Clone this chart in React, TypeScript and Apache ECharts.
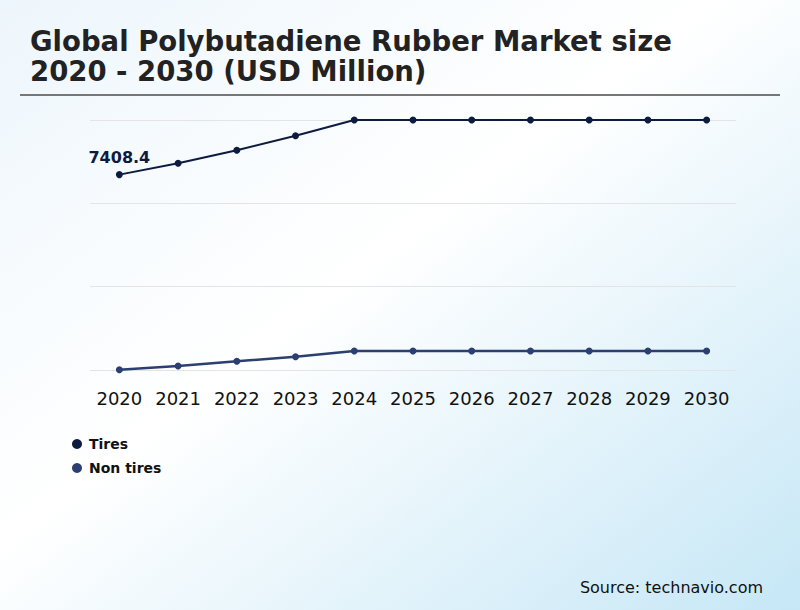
import React, { useEffect, useRef } from "react";
import * as echarts from "echarts";

const years = ["2020", "2021", "2022", "2023", "2024", "2025", "2026", "2027", "2028", "2029", "2030"];
const tires = [7408.4, 7709, 8055, 8443, 8860, 8860, 8860, 8860, 8860, 8860, 8860];
const nonTires = [2223, 2321, 2446, 2569, 2720, 2720, 2720, 2720, 2720, 2720, 2720];
const seriesNames = ["Tires", "Non tires"];
const titleText = "Global Polybutadiene Rubber Market size\n2020 - 2030 (USD Million)";
const sourceText = "Source: technavio.com";

const FONT = "DejaVu Sans";

export default function App() {
  const ref = useRef<HTMLDivElement>(null);
  useEffect(() => {
    document.body.style.margin = "0";
    const chart = echarts.init(ref.current!, null, { renderer: "svg" });
    chart.setOption({
      animation: false,
      backgroundColor: new echarts.graphic.LinearGradient(0, 0, 1, 1, [
        { offset: 0, color: "#edf6fc" },
        { offset: 0.45, color: "#ffffff" },
        { offset: 1, color: "#c6e7f6" },
      ]),
      textStyle: { fontFamily: FONT },
      title: {
        text: titleText,
        left: 30,
        top: 26,
        padding: 0,
        textStyle: {
          fontFamily: FONT,
          fontSize: 27.5,
          fontWeight: "bold",
          color: "#222222",
          lineHeight: 30,
        },
      },
      graphic: [
        {
          type: "line",
          shape: { x1: 20, y1: 95, x2: 780, y2: 95 },
          style: { stroke: "#777777", lineWidth: 2 },
        },
        {
          type: "text",
          right: 37,
          top: 579,
          style: {
            text: sourceText,
            fontFamily: FONT,
            fontSize: 16,
            fill: "#111111",
          },
        },
      ],
      legend: {
        orient: "vertical",
        left: 67,
        top: 432,
        icon: "circle",
        itemWidth: 10,
        itemHeight: 10,
        itemGap: 10,
        data: seriesNames,
        textStyle: { fontFamily: FONT, fontSize: 14, fontWeight: "bold", color: "#111111", padding: [0, 0, 0, 2] },
      },
      grid: { left: 90, right: 64, top: 120, bottom: 240 },
      xAxis: {
        type: "category",
        data: years,
        axisLine: { show: false },
        axisTick: { show: false },
        axisLabel: { interval: 0, fontFamily: FONT, fontSize: 18, color: "#111111", margin: 19 },
      },
      yAxis: {
        type: "value",
        min: 2215,
        max: 8860,
        interval: 2215,
        axisLabel: { show: false },
        axisLine: { show: false },
        axisTick: { show: false },
        splitLine: { lineStyle: { color: "#e4e4e4", width: 1 } },
      },
      series: [
        {
          name: seriesNames[0],
          type: "line",
          data: tires.map((v, i) =>
            i === 0
              ? {
                  value: v,
                  label: {
                    show: true,
                    position: "top",
                    distance: 6,
                    fontFamily: FONT,
                    fontSize: 16,
                    fontWeight: "bold",
                    color: "#0d1b3e",
                  },
                }
              : v
          ),
          symbol: "circle",
          symbolSize: 7,
          color: "#0d1b3e",
          lineStyle: { color: "#0d1b3e", width: 2 },
          itemStyle: { color: "#0d1b3e" },
          emphasis: { disabled: true },
        },
        {
          name: seriesNames[1],
          type: "line",
          data: nonTires,
          symbol: "circle",
          symbolSize: 7,
          color: "#2b3f70",
          lineStyle: { color: "#2b3f70", width: 2.5 },
          itemStyle: { color: "#2b3f70" },
          emphasis: { disabled: true },
        },
      ],
    });
    return () => chart.dispose();
  }, []);
  return <div ref={ref} style={{ width: 800, height: 610 }} />;
}
